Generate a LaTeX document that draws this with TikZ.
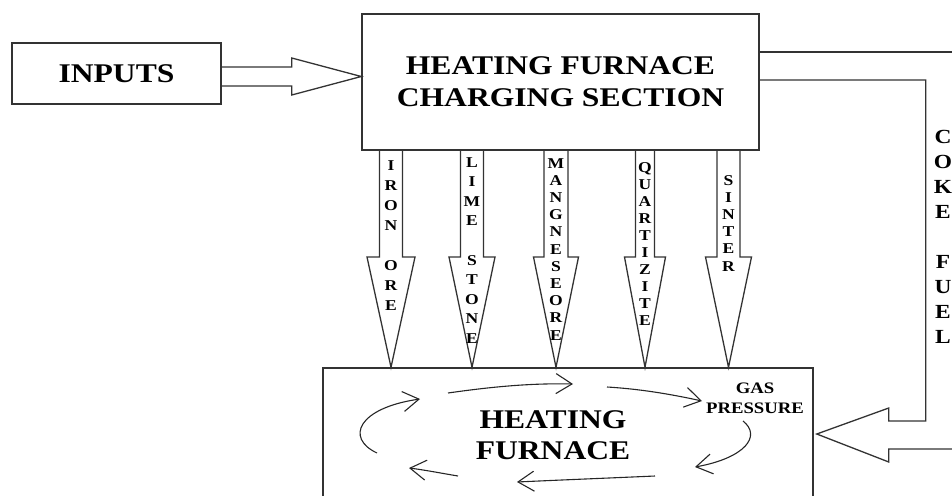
\documentclass[tikz,border=0pt]{standalone}
\usepackage{fontspec}
\setmainfont[FakeStretch=1.17]{Liberation Serif}
\usepackage{tikz}
\usetikzlibrary{arrows.meta,calc}
\definecolor{lineink}{RGB}{51,51,51}
\tikzset{
  plainbox/.style={
    rectangle,
    draw=lineink,
    line width=1.5pt,
    inner sep=0pt,
    align=center,
    font=\fontsize{27}{32}\selectfont\bfseries
  },
  blockline/.style={draw=lineink, line width=1.3pt, line join=miter},
  stacktxt/.style={anchor=north, inner sep=0pt, align=center},
  swirl/.style={-{Straight Barb[length=16pt,width=20pt]}, line width=1.1pt, black!85}
}

\begin{document}
\begin{tikzpicture}[x=1pt,y=-1pt]
\useasboundingbox (0,0) rectangle (952,495);
\clip (0,0) rectangle (952,495);
% boxes
\node[plainbox, minimum width=209pt, minimum height=61pt] (inputs) at (116.5,73.5) {INPUTS};
\node[plainbox, minimum width=397pt, minimum height=136pt] (charging) at (560.5,82) {HEATING FURNACE\\CHARGING SECTION};
\node[plainbox, minimum width=490pt, minimum height=132pt] (furnace) at (568,434) {};
\node[stacktxt, font=\fontsize{27}{31}\selectfont\bfseries] (furnacetxt) at (553,410) {HEATING\\FURNACE};
\node[stacktxt, font=\fontsize{16}{20}\selectfont\bfseries] (gas) at (755,383) {GAS\\PRESSURE};
\node[stacktxt, font=\fontsize{20}{25}\selectfont\bfseries] (coke) at (943,130) {C\\O\\K\\E\\~\\F\\U\\E\\L};
% inputs -> charging
\draw[blockline] ($(inputs.east)+(0,-6.5)$) -- ++(70,0) -- ++(0,-9) -- ($(inputs.east -| charging.west)+(0,3)$) -- ($(inputs.east)+(70,21.5)$) -- ++(0,-9) -- ($(inputs.east)+(0,12.5)$);
% coke fuel loop
\draw[blockline] ($(charging.east)+(0,-30)$) -- ++(200,0);
\draw[blockline] ($(charging.east)+(0,-2)$) -- ++(166,0) -- ++(0,341) -- ++(-37,0) -- ++(0,-13) -- ($(furnace.east)+(3,0)$) -- ++(72,28) -- ++(0,-13) -- ++(80,0);
% feed arrows
\foreach \cx/\sw/\hw/\top/\skp/\word [count=\i] in {
  391/11.5/24/160/20/{I\\R\\O\\N\\~\\O\\R\\E},
  472/11.5/23/157/19.6/{L\\I\\M\\E\\~\\S\\T\\O\\N\\E},
  556/12/22.5/158/17.2/{M\\A\\N\\G\\N\\E\\S\\E\\O\\R\\E},
  645/9.5/20.5/162/17/{Q\\U\\A\\R\\T\\I\\Z\\I\\T\\E},
  728.5/11.5/23/175/17.2/{S\\I\\N\\T\\E\\R}}{
  \draw[blockline] (\cx-\sw,0 |- charging.south) -- (\cx-\sw,257) -- (\cx-\hw,257) -- (\cx,0 |- furnace.north) -- (\cx+\hw,257) -- (\cx+\sw,257) -- (\cx+\sw,0 |- charging.south);
  \node[stacktxt, font=\fontsize{15}{\skp}\selectfont\bfseries] (feed\i) at (\cx,\top) {\word};
}
% gas swirl
\draw[swirl] (448,393) .. controls (490,387) and (530,383) .. (573,384);
\draw[swirl] (607,387) .. controls (640,389) and (670,394) .. (702,401);
\draw[swirl] (743,421) .. controls (762,436) and (745,458) .. (695,467);
\draw[swirl] (655,476) .. controls (610,478) and (560,480) .. (517,482);
\draw[swirl] (458,476) .. controls (440,473) and (425,470) .. (409,468);
\draw[swirl] (377,453) .. controls (345,438) and (358,408) .. (420,399);
\end{tikzpicture}
\end{document}
